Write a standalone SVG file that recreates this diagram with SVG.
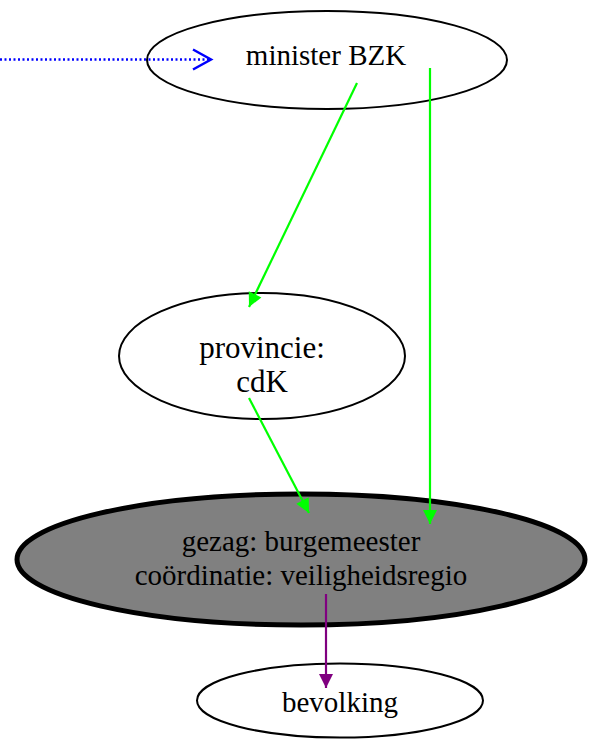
<svg xmlns="http://www.w3.org/2000/svg" width="596" height="742" viewBox="0 0 596 742">
<style>
  text { font-family: "Liberation Serif", "Times New Roman", serif; font-size: 29px; fill: #000; text-anchor: middle; }
  .big { font-size: 31px; }
  .node { fill: #fff; stroke: #000; stroke-width: 2; }
  .main { fill: #808080; stroke: #000; stroke-width: 5; }
  .green { stroke: #00ff00; stroke-width: 2.2; fill: none; }
  .purple { stroke: #800080; stroke-width: 2.2; fill: none; }
  .blue { stroke: #0000ff; stroke-width: 2.5; fill: none; stroke-dasharray: 2 2.5; }
</style>
<defs>
  <marker id="ag" markerUnits="userSpaceOnUse" markerWidth="16" markerHeight="16" viewBox="0 0 16 16" refX="15" refY="8" orient="auto">
    <path d="M1,1 L15,8 L1,15 Z" fill="#00ff00"/>
  </marker>
  <marker id="ap" markerUnits="userSpaceOnUse" markerWidth="16" markerHeight="16" viewBox="0 0 16 16" refX="15" refY="8" orient="auto">
    <path d="M1,1 L15,8 L1,15 Z" fill="#800080"/>
  </marker>
</defs>
<rect width="596" height="742" fill="#fff"/>
<g id="node-minister">
  <ellipse class="node" cx="327" cy="60" rx="180" ry="49"/>
  <text x="326" y="65">minister BZK</text>
</g>
<g id="node-provincie">
  <ellipse class="node" cx="262" cy="356" rx="143" ry="63"/>
  <text class="big" x="262" y="358">provincie:</text>
  <text class="big" x="262" y="392">cdK</text>
</g>
<g id="node-gezag">
  <ellipse class="main" cx="301" cy="559.5" rx="284" ry="65.5"/>
  <text x="301" y="551">gezag: burgemeester</text>
  <text x="301" y="585">coördinatie: veiligheidsregio</text>
</g>
<g id="node-bevolking">
  <ellipse class="node" cx="340" cy="700.5" rx="143" ry="37"/>
  <text x="340" y="712">bevolking</text>
</g>
<g id="connectors">
  <line class="blue" x1="0" y1="59.5" x2="209" y2="59.5"/>
  <path d="M193,49.5 L211,59.5 L193,69.5" fill="none" stroke="#0000ff" stroke-width="2.5"/>
  <line class="green" x1="357" y1="83" x2="249" y2="307" marker-end="url(#ag)"/>
  <line class="green" x1="430" y1="68" x2="430" y2="524" marker-end="url(#ag)"/>
  <line class="green" x1="249" y1="398" x2="309" y2="513" marker-end="url(#ag)"/>
  <line class="purple" x1="326" y1="594" x2="326" y2="688" marker-end="url(#ap)"/>
</g>
</svg>
